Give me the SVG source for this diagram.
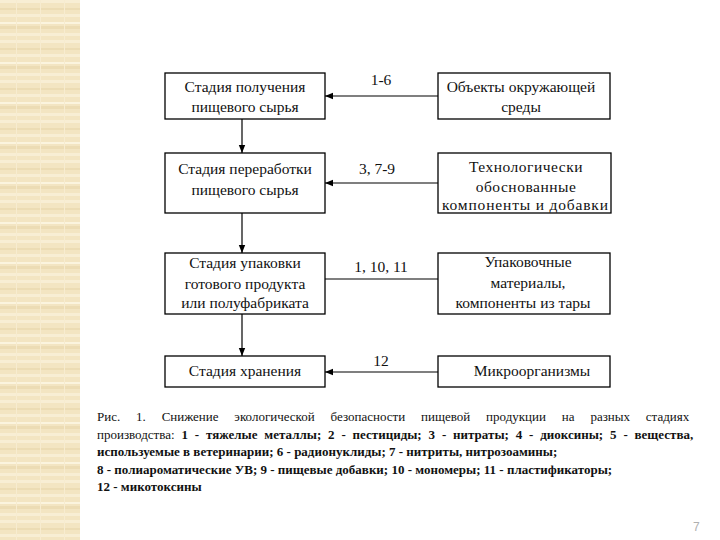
<svg xmlns="http://www.w3.org/2000/svg" width="720" height="540" viewBox="0 0 720 540">
<defs>
<pattern id="bg" x="0" y="0" width="24" height="40" patternUnits="userSpaceOnUse">
<rect width="24" height="40" fill="#f3e5c2"/>
<rect y="0" width="24" height="3" fill="#f8eed4"/>
<rect y="8" width="24" height="2" fill="#ecdcb4"/>
<rect y="14" width="24" height="3" fill="#f8eed4"/>
<rect y="22" width="24" height="2" fill="#fbf4de"/>
<rect y="26" width="24" height="3" fill="#ecdcb4"/>
<rect y="33" width="24" height="3" fill="#f8eed4"/>
<rect x="16" width="1" height="40" fill="#f7ecd0"/>
</pattern>
<marker id="ah" viewBox="0 0 10 10" refX="10" refY="5" markerWidth="8" markerHeight="8" markerUnits="userSpaceOnUse" orient="auto">
<path d="M0,1 L10,5 L0,9 z" fill="#000"/>
</marker>
<style>
.box{fill:#fff;stroke:#000;stroke-width:1.3}
.t{font-family:"Liberation Serif","Times New Roman",serif;font-size:15.5px;fill:#111;text-anchor:middle}
.lbl{font-family:"Liberation Serif","Times New Roman",serif;font-size:15.5px;fill:#111;text-anchor:middle}
.c{font-family:"Liberation Serif","Times New Roman",serif;font-size:13px;fill:#111}
.b{font-weight:bold}
.ln{stroke:#000;stroke-width:1.2;fill:none}
</style>
</defs>
<rect width="720" height="540" fill="#fff"/>
<rect width="80" height="540" fill="url(#bg)"/>

<g id="connectors">
<line class="ln" x1="242" y1="119" x2="242" y2="153" marker-end="url(#ah)"/>
<line class="ln" x1="242" y1="213" x2="242" y2="253" marker-end="url(#ah)"/>
<line class="ln" x1="242" y1="314" x2="242" y2="356" marker-end="url(#ah)"/>
<line class="ln" x1="438" y1="96" x2="325" y2="96" marker-end="url(#ah)"/>
<line class="ln" x1="438" y1="183" x2="325" y2="183" marker-end="url(#ah)"/>
<line class="ln" x1="438" y1="279" x2="325" y2="279"/>
<line class="ln" x1="438" y1="372" x2="325" y2="372" marker-end="url(#ah)"/>
<text class="lbl" x="381" y="85">1-6</text>
<text class="lbl" x="377" y="174">3, 7-9</text>
<text class="lbl" x="381" y="272">1, 10, 11</text>
<text class="lbl" x="381" y="366">12</text>
</g>

<g id="stage1">
<rect class="box" x="165" y="73" width="160" height="46"/>
<text class="t" x="245" y="92">Стадия получения</text>
<text class="t" x="245" y="112">пищевого сырья</text>
</g>
<g id="stage2">
<rect class="box" x="165" y="153" width="160" height="60"/>
<text class="t" x="245" y="174">Стадия переработки</text>
<text class="t" x="245" y="195">пищевого сырья</text>
</g>
<g id="stage3">
<rect class="box" x="165" y="253" width="160" height="61"/>
<text class="t" x="245" y="268">Стадия упаковки</text>
<text class="t" x="245" y="289">готового продукта</text>
<text class="t" x="245" y="308">или полуфабриката</text>
</g>
<g id="stage4">
<rect class="box" x="165" y="356" width="160" height="31"/>
<text class="t" x="245" y="376">Стадия хранения</text>
</g>

<g id="source1">
<rect class="box" x="438" y="73" width="172" height="46"/>
<text class="t" x="521" y="92">Объекты окружающей</text>
<text class="t" x="521" y="112">среды</text>
</g>
<g id="source2">
<rect class="box" x="438" y="153" width="173" height="60"/>
<text class="t" x="526" y="172" letter-spacing="0.5">Технологически</text>
<text class="t" x="526" y="192" letter-spacing="0.5">обоснованные</text>
<text class="t" x="525" y="210" textLength="166" lengthAdjust="spacing">компоненты и добавки</text>
</g>
<g id="source3">
<rect class="box" x="438" y="253" width="172" height="61"/>
<text class="t" x="528" y="267">Упаковочные</text>
<text class="t" x="528" y="288">материалы,</text>
<text class="t" x="523" y="308">компоненты из тары</text>
</g>
<g id="source4">
<rect class="box" x="438" y="356" width="172" height="31"/>
<text class="t" x="532" y="376">Микроорганизмы</text>
</g>

<g id="caption">
<text class="c" x="97" y="421" word-spacing="12.6">Рис. 1. Снижение экологической безопасности пищевой продукции на разных стадиях</text>
<text class="c" x="97" y="439" word-spacing="3.6">производства: <tspan class="b">1 - тяжелые металлы; 2 - пестициды; 3 - нитраты; 4 - диоксины; 5 - вещества,</tspan></text>
<text class="c b" x="97" y="456">используемые в ветеринарии; 6 - радионуклиды; 7 - нитриты, нитрозоамины;</text>
<text class="c b" x="97" y="474">8 - полиароматические УВ; 9 - пищевые добавки; 10 - мономеры; 11 - пластификаторы;</text>
<text class="c b" x="97" y="491">12 - микотоксины</text>
</g>
<text x="693" y="531" font-family="Liberation Sans, Arial, sans-serif" font-size="12" fill="#b0b0b0">7</text>
</svg>
